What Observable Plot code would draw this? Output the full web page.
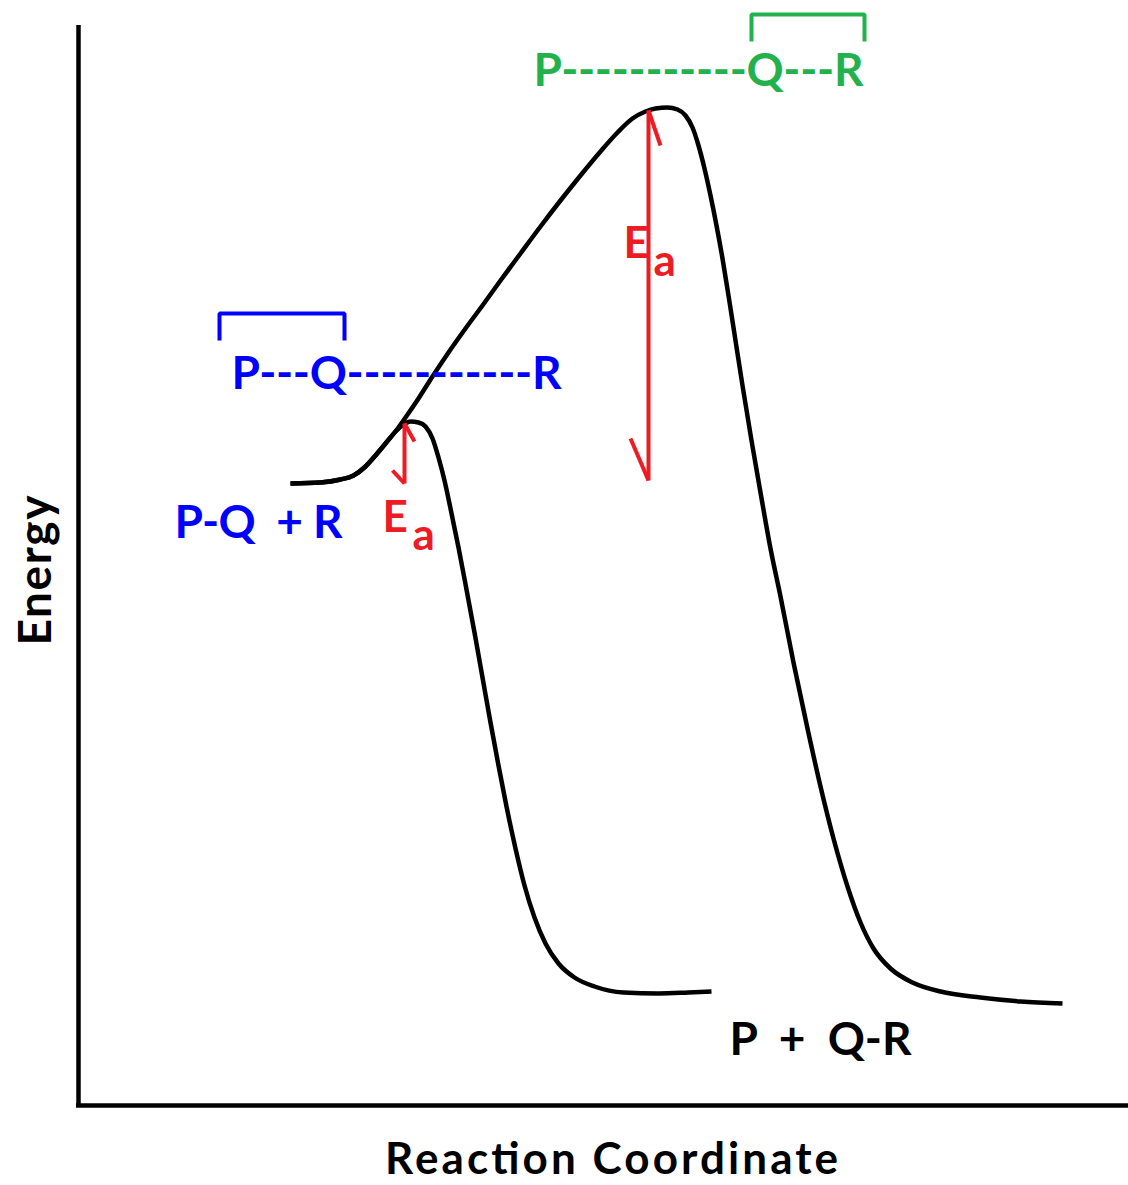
<!DOCTYPE html>
<html><head><meta charset="utf-8">
<script src="https://cdn.jsdelivr.net/npm/d3@7"></script>
<script src="https://cdn.jsdelivr.net/npm/@observablehq/plot@0.6"></script>
<style>
html,body{margin:0;padding:0;background:#fff;}
svg text{white-space:pre;}
</style>
</head><body><div id="chart"></div>
<script>
// Reaction coordinate (r) and energy (e) readings of the two profiles
const catalysedPath = [[212,622],[242,623],[262,626],[275,630],[287,639],[297,650],[307,662],[317,674],[325,681],[332,684],[340,683],[347,679],[354,667],[360,648],[366,625],[372,597],[380,558],[388,516],[396,473],[404,428],[412,383],[420,340],[428,299],[437,257],[446,220],[456,188],[467,162],[480,142],[496,128],[516,119],[545,113],[580,112],[610,113],[633,114]];
const uncatalysedPath = [[212,622],[242,623],[262,626],[275,630],[287,639],[297,650],[307,662],[317,674],[327,688],[340,707],[354,729],[370,753],[387,777],[404,800],[422,825],[442,852],[462,879],[482,905],[502,930],[522,954],[539,973],[554,987],[567,994],[577,997],[589,998],[599,996],[607,990],[614,978],[620,960],[626,937],[632,910],[638,880],[644,847],[650,810],[657,765],[664,720],[673,665],[682,613],[692,557],[702,509],[715,443],[729,377],[742,319],[755,267],[769,219],[782,183],[795,157],[812,137],[834,123],[862,114],[902,108],[942,104],[984,102]];

// Activation energy arrows: position, barrier top, reactant energy
const eaArrows = [{r:326, top:682, bottom:622}, {r:570, top:995, bottom:625}];
const eaLabels = [{r:304, e:588}, {r:545, e:862}];

// Transition-state labels and brackets
const blueLabels = [{text:"P---Q-----------R", r:153, e:731}, {text:"P-Q  + R", r:96, e:582}];
const greenLabels = [{text:"P-----------Q---R", r:455, e:1034}];
const blackLabels = [{text:"P  +  Q-R", r:651, e:65}];
const blueBracket = [{r1:141, r2:266, top:792, foot:765}];
const greenBracket = [{r1:673, r2:786, top:1091, foot:1064}];

const axisTitles = [{text:"Reaction Coordinate", r:533, e:-54}];
const yTitle = [{text:"Energy", r:-42, e:535}];

const BLUE = "#0000ff", GREEN = "#22b14c", RED = "#ed1c24";
const FONT = "Lato, 'Open Sans', sans-serif";

const bracketPts = b => [[b.r1,b.foot],[b.r1,b.top],[b.r2,b.top],[b.r2,b.foot]];
const barb = a => (a.top - a.bottom > 100) ? {tx:12, ty:35, bx:18, by:42} : {tx:10, ty:18, bx:12, by:13};

const chart = Plot.plot({
  width: 1128, height: 1185, margin: 0,
  x: {domain: [-78, 1050], axis: null},
  y: {domain: [-80, 1105], axis: null},
  style: {background: "#fff"},
  marks: [
    Plot.ruleX([0], {y1: -2, y2: 1080, stroke: "black", strokeWidth: 4.5}),
    Plot.ruleY([0], {x1: -2, x2: 1050, stroke: "black", strokeWidth: 4.5}),
    Plot.line(catalysedPath, {x: d => d[0], y: d => d[1], curve: "monotone-x", stroke: "black", strokeWidth: 4.5, strokeLinecap: "butt"}),
    Plot.line(uncatalysedPath, {x: d => d[0], y: d => d[1], curve: "monotone-x", stroke: "black", strokeWidth: 4.5, strokeLinecap: "butt"}),
    // Ea arrows
    Plot.link(eaArrows, {x1: "r", x2: "r", y1: "bottom", y2: "top", stroke: RED, strokeWidth: 4}),
    Plot.link(eaArrows, {x1: "r", y1: "top", x2: a => a.r + barb(a).tx, y2: a => a.top - barb(a).ty, stroke: RED, strokeWidth: 4}),
    Plot.link(eaArrows, {x1: "r", y1: "bottom", x2: a => a.r - barb(a).bx, y2: a => a.bottom + barb(a).by, stroke: RED, strokeWidth: 4}),
    Plot.text(eaLabels, {x: "r", y: "e", text: () => "E", textAnchor: "start", fill: RED, fontSize: 44, fontWeight: 700, fontFamily: FONT}),
    Plot.text(eaLabels, {x: "r", y: "e", text: () => "a", textAnchor: "start", dx: 30, dy: 18, fill: RED, fontSize: 44, fontWeight: 700, fontFamily: FONT}),
    // brackets
    Plot.line(bracketPts(blueBracket[0]), {x: d => d[0], y: d => d[1], stroke: BLUE, strokeWidth: 4, strokeLinejoin: "miter", strokeLinecap: "butt"}),
    Plot.line(bracketPts(greenBracket[0]), {x: d => d[0], y: d => d[1], stroke: GREEN, strokeWidth: 4, strokeLinejoin: "miter", strokeLinecap: "butt"}),
    Plot.text(blueLabels, {x: "r", y: "e", text: "text", textAnchor: "start", fill: BLUE, fontSize: 46, fontWeight: 700, fontFamily: FONT}),
    Plot.text(greenLabels, {x: "r", y: "e", text: "text", textAnchor: "start", fill: GREEN, fontSize: 46, fontWeight: 700, fontFamily: FONT}),
    Plot.text(blackLabels, {x: "r", y: "e", text: "text", textAnchor: "start", fill: "black", fontSize: 46, fontWeight: 700, fontFamily: FONT}),
    Plot.text(axisTitles, {x: "r", y: "e", text: "text", textAnchor: "middle", fill: "black", fontSize: 44, fontWeight: 700, fontFamily: FONT}),
    Plot.text(yTitle, {x: "r", y: "e", text: "text", rotate: -90, textAnchor: "middle", fill: "black", fontSize: 46, fontWeight: 700, fontFamily: FONT})
  ]
});
document.getElementById("chart").appendChild(chart);

// fit text widths to the reference
const fit = {"Reaction Coordinate": 453, "Energy": 150, "P---Q-----------R": 330, "P-----------Q---R": 330, "P-Q  + R": 168, "P  +  Q-R": 182};
d3.select(chart).selectAll("text").each(function() {
  const w = fit[this.textContent];
  if (w) { this.setAttribute("textLength", w); this.setAttribute("lengthAdjust", "spacing"); }
});
</script>
</body></html>
